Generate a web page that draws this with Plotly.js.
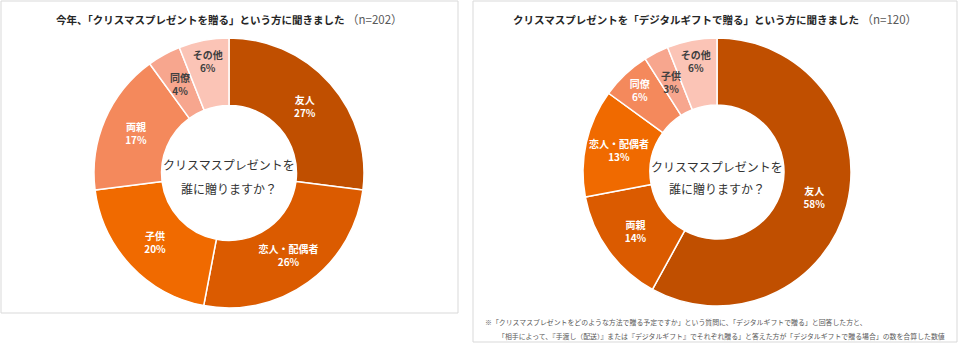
<!DOCTYPE html>
<html>
<head>
<meta charset="utf-8">
<script src="https://cdn.plot.ly/plotly-3.0.1.min.js"></script>
<style>
  html, body { margin: 0; padding: 0; background: #fff; }
  #chart { width: 960px; height: 345px; }
</style>
</head>
<body>
<div id="chart"></div>
<script>
// Who receives the Christmas present (all givers, n=202)
const allLabels = ['友人', '恋人・配偶者', '子供', '両親', '同僚', 'その他'];
const allValues = [27, 26, 20, 17, 4, 6];

// Who receives the present when it is sent as a digital gift (n=120)
const digitalLabels = ['友人', '両親', '恋人・配偶者', '同僚', '子供', 'その他'];
const digitalValues = [58, 14, 13, 6, 3, 6];

const titleLeftMain = '今年、「クリスマスプレゼントを贈る」という方に聞きました';
const titleRightMain = 'クリスマスプレゼントを「デジタルギフトで贈る」という方に聞きました';
const nLeft = '（n=202）';
const nRight = '（n=120）';
const centerLines = ['クリスマスプレゼントを', '誰に贈りますか？'];
const noteLines = [
  '※「クリスマスプレゼントをどのような方法で贈る予定ですか」という質問に、「デジタルギフトで贈る」と回答した方と、',
  '「相手によって、『手渡し（配送）』または『デジタルギフト』でそれぞれ贈る」と答えた方が「デジタルギフトで贈る場合」の数を合算した数値'
];

const W = 960, H = 345;
const FONT = '"Noto Sans CJK JP", "Noto Sans", sans-serif';

// slice colours run from dark to light in clockwise order
const shades = ['#C04F00', '#DB5B00', '#F06A00', '#F4895C', '#F7A68E', '#FBC4B6'];
const leftText = ['#ffffff', '#ffffff', '#ffffff', '#ffffff', '#404040', '#404040'];
const rightText = ['#ffffff', '#ffffff', '#ffffff', '#ffffff', '#404040', '#404040'];

// slices thinner than this get their label as a free annotation so it keeps full size
const SMALL = 5;

const px = x => x / W;
const py = y => 1 - y / H;

function donut(labels, values, cx, cy, r, textColors) {
  return {
    type: 'pie',
    labels: labels,
    values: values,
    hole: 0.5,
    sort: false,
    direction: 'clockwise',
    rotation: 0,
    marker: { colors: shades, line: { color: '#ffffff', width: 1.5 } },
    texttemplate: values.map(v => v < SMALL ? '' : '<b>%{label}<br>%{value}%</b>'),
    textposition: 'inside',
    insidetextorientation: 'horizontal',
    textfont: { family: FONT, size: 10, color: textColors },
    hoverinfo: 'label+value',
    showlegend: false,
    domain: { x: [px(cx - r), px(cx + r)], y: [py(cy + r), py(cy - r)] }
  };
}

// labels for the thin slices, placed at the middle angle of each slice
function smallLabels(labels, values, cx, cy, r, textColors) {
  const total = values.reduce((a, b) => a + b, 0);
  let cum = 0;
  const out = [];
  values.forEach((v, i) => {
    const mid = (cum + v / 2) / total;
    cum += v;
    if (v >= SMALL) return;
    const th = (90 - 360 * mid) * Math.PI / 180;
    const rr = r * 0.75;
    out.push({
      text: '<b>' + labels[i] + '<br>' + v + '%</b>',
      xref: 'paper', yref: 'paper',
      x: px(cx + rr * Math.cos(th)), y: py(cy - rr * Math.sin(th)),
      showarrow: false, xanchor: 'center', yanchor: 'middle',
      font: { family: FONT, size: 10, color: textColors[i] }
    });
  });
  return out;
}

const L = { cx: 229, cy: 173, r: 135 };
const R = { cx: 717, cy: 172, r: 134 };

const data = [
  donut(allLabels, allValues, L.cx, L.cy, L.r, leftText),
  donut(digitalLabels, digitalValues, R.cx, R.cy, R.r, rightText)
];

const panel = (x0, y0, x1, y1) => ({
  type: 'rect', xref: 'paper', yref: 'paper',
  x0: px(x0), x1: px(x1), y0: py(y1), y1: py(y0),
  line: { color: '#d9d9d9', width: 1 }, fillcolor: 'rgba(0,0,0,0)'
});

const ann = (text, x, y, size, color, opts) => Object.assign({
  text: text, xref: 'paper', yref: 'paper', x: px(x), y: py(y),
  showarrow: false, font: { family: FONT, size: size, color: color },
  xanchor: 'center', yanchor: 'middle'
}, opts || {});

const titleText = (main, n) =>
  '<b>' + main + '</b><span style="color:#595959;font-size:11.5px"> ' + n + '</span>';

const layout = {
  width: W, height: H,
  margin: { l: 0, r: 0, t: 0, b: 0 },
  paper_bgcolor: '#ffffff',
  plot_bgcolor: '#ffffff',
  shapes: [panel(1, 1, 458, 313), panel(473, 1, 957, 342)],
  annotations: [
    ann(titleText(titleLeftMain, nLeft), 229, 19, 10.5, '#262626'),
    ann(titleText(titleRightMain, nRight), 715, 19, 10.5, '#262626'),
    ann(centerLines[0], 229, 164, 12, '#333333'),
    ann(centerLines[1], 229, 188, 12, '#333333'),
    ann(centerLines[0], 717, 166, 12, '#333333'),
    ann(centerLines[1], 717, 189, 12, '#333333'),
    ann(noteLines[0], 483, 322, 6.9, '#595959', { xanchor: 'left' }),
    ann(noteLines[1], 496, 336, 6.9, '#595959', { xanchor: 'left' })
  ].concat(
    smallLabels(allLabels, allValues, L.cx, L.cy, L.r, leftText),
    smallLabels(digitalLabels, digitalValues, R.cx, R.cy, R.r, rightText)
  )
};

Plotly.newPlot('chart', data, layout, { staticPlot: true, displayModeBar: false });
</script>
</body>
</html>
